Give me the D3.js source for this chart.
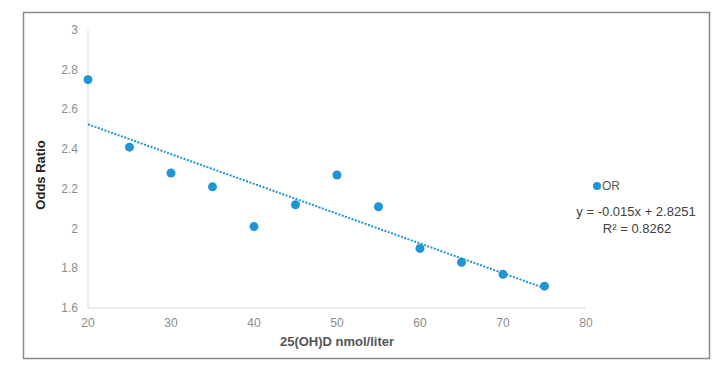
<!DOCTYPE html>
<html>
<head>
<meta charset="utf-8">
<script src="https://cdn.jsdelivr.net/npm/d3@7"></script>
<style>
  body { margin: 0; background: #fff; }
  text { font-family: "Liberation Sans", Arial, sans-serif; }
</style>
</head>
<body>
<svg></svg>
<script>
const xValues = [20, 25, 30, 35, 40, 45, 50, 55, 60, 65, 70, 75]
const orValues = [2.75, 2.41, 2.28, 2.21, 2.01, 2.12, 2.27, 2.11, 1.90, 1.83, 1.77, 1.71]
const xTicks = [20, 30, 40, 50, 60, 70, 80]
const yTicks = [1.6, 1.8, 2, 2.2, 2.4, 2.6, 2.8, 3]
const trendSlope = -0.015
const trendIntercept = 2.8251
const rSquared = 0.8262

let width = 726
let height = 371
let blue = '#1f95d3'

let xScale = d3.scaleLinear().domain([20, 80]).range([88, 586])
let yScale = d3.scaleLinear().domain([1.6, 3]).range([308, 30])

let svg = d3.select('svg')
    .attr('width', width)
    .attr('height', height)

// outer frame
svg.append('rect')
    .attr('x', 23.5).attr('y', 12.5)
    .attr('width', 686).attr('height', 346)
    .attr('fill', 'none')
    .attr('stroke', '#8a8a8a')
    .attr('stroke-width', 1.5)

// axis lines
svg.append('line')
    .attr('x1', xScale(20)).attr('x2', xScale(20))
    .attr('y1', yScale(3)).attr('y2', yScale(1.6))
    .attr('stroke', '#d9d9d9')
svg.append('line')
    .attr('x1', xScale(20)).attr('x2', xScale(80))
    .attr('y1', yScale(1.6)).attr('y2', yScale(1.6))
    .attr('stroke', '#d9d9d9')

svg.selectAll('.ytick')
  .data(yTicks)
  .enter()
  .append('text')
    .attr('x', 78)
    .attr('y', d => yScale(d) + 4)
    .attr('text-anchor', 'end')
    .attr('font-size', 12)
    .attr('fill', '#8c8c8c')
    .text(d => d)

svg.selectAll('.xtick')
  .data(xTicks)
  .enter()
  .append('text')
    .attr('x', d => xScale(d))
    .attr('y', 327)
    .attr('text-anchor', 'middle')
    .attr('font-size', 12)
    .attr('fill', '#8c8c8c')
    .text(d => d)

// axis titles
svg.append('text')
    .attr('transform', 'translate(45,175) rotate(-90)')
    .attr('text-anchor', 'middle')
    .attr('font-size', 13)
    .attr('font-weight', 'bold')
    .attr('fill', '#222')
    .text('Odds Ratio')

svg.append('text')
    .attr('x', 337).attr('y', 346)
    .attr('text-anchor', 'middle')
    .attr('font-size', 13)
    .attr('font-weight', 'bold')
    .attr('fill', '#555')
    .text('25(OH)D nmol/liter')

// linear trendline
let trendX = d3.extent(xValues)
svg.append('line')
    .attr('x1', xScale(trendX[0]))
    .attr('y1', yScale(trendSlope * trendX[0] + trendIntercept))
    .attr('x2', xScale(trendX[1]))
    .attr('y2', yScale(trendSlope * trendX[1] + trendIntercept))
    .attr('stroke', blue)
    .attr('stroke-width', 2)
    .attr('stroke-dasharray', '2,1.5')

svg.selectAll('circle.pt')
  .data(xValues)
  .enter()
  .append('circle')
    .attr('class', 'pt')
    .attr('cx', d => xScale(d))
    .attr('cy', (d, i) => yScale(orValues[i]))
    .attr('r', 4.5)
    .attr('fill', blue)

// legend
svg.append('circle')
    .attr('cx', 597).attr('cy', 186)
    .attr('r', 4)
    .attr('fill', blue)
svg.append('text')
    .attr('x', 602).attr('y', 190)
    .attr('font-size', 12)
    .attr('fill', '#595959')
    .text('OR')

svg.append('text')
    .attr('x', 636).attr('y', 216)
    .attr('text-anchor', 'middle')
    .attr('font-size', 13)
    .attr('fill', '#404040')
    .text('y = ' + trendSlope + 'x + ' + trendIntercept)
svg.append('text')
    .attr('x', 637).attr('y', 233)
    .attr('text-anchor', 'middle')
    .attr('font-size', 13)
    .attr('fill', '#404040')
    .text('R² = ' + rSquared)
</script>
</body>
</html>
